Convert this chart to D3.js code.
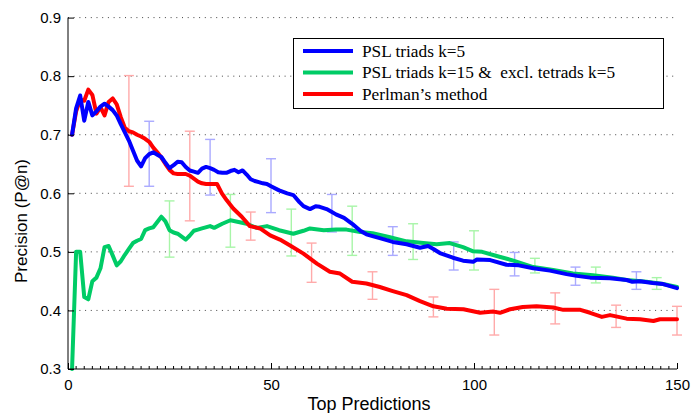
<!DOCTYPE html>
<html>
<head>
<meta charset="utf-8">
<script src="https://cdn.jsdelivr.net/npm/d3@7"></script>
<style>
  html, body { margin: 0; padding: 0; background: #fff; }
  svg { display: block; }
</style>
</head>
<body>
<svg id="chart" width="693" height="413"></svg>
<script>
// Precision at n for the three methods, as [n, precision] pairs
const pslTriadsK5 = [
  [1,0.700],[2,0.745],[3,0.767],[4,0.724],[5,0.756],[6,0.733],[7,0.740],[8,0.748],[9,0.753],[10,0.748],
  [11,0.742],[12,0.733],[13,0.718],[14,0.704],[15,0.690],[16,0.673],[17,0.656],[18,0.646],[19,0.660],[20,0.667],
  [21,0.670],[22,0.666],[23,0.662],[24,0.652],[25,0.643],[26,0.648],[27,0.654],[28,0.653],[29,0.645],[30,0.639],
  [31,0.637],[32,0.635],[33,0.642],[34,0.645],[35,0.643],[36,0.640],[37,0.636],[38,0.635],[39,0.635],[40,0.638],
  [41,0.640],[42,0.636],[43,0.639],[44,0.632],[45,0.624],[46,0.621],[47,0.619],[48,0.617],[49,0.616],[50,0.612],
  [52,0.605],[54,0.600],[55.5,0.597],[57,0.585],[58,0.578],[59.6,0.573],[61,0.578],[62,0.577],[63.7,0.573],[65,0.568],
  [66,0.564],[68,0.558],[70,0.548],[72,0.536],[73.5,0.530],[75,0.527],[77,0.523],[80,0.517],[83.4,0.513],[86.7,0.507],
  [88.7,0.510],[90,0.505],[91.6,0.498],[94.8,0.490],[97.3,0.485],[99.8,0.483],[100.7,0.487],[104,0.486],[108,0.478],[111,0.477],
  [114.6,0.472],[118.7,0.468],[122.8,0.462],[125.3,0.459],[128.6,0.456],[133.5,0.455],[137.6,0.452],[139,0.449],[140.9,0.450],[144,0.447],
  [146.6,0.445],[150,0.438]
];

const pslTriadsK15 = [
  [1,0.300],[2,0.500],[3,0.500],[4,0.423],[5,0.419],[6,0.450],[7,0.456],[8,0.472],[9,0.508],[10,0.510],
  [11,0.494],[12,0.477],[13,0.484],[14,0.495],[15,0.505],[16,0.515],[17,0.519],[18,0.522],[19,0.537],[20,0.540],
  [21,0.542],[22,0.551],[23,0.560],[24,0.552],[25,0.537],[26,0.533],[27,0.531],[28,0.526],[29,0.521],[30,0.528],
  [31,0.536],[32,0.538],[33,0.540],[35,0.544],[36,0.541],[38,0.548],[40,0.554],[42,0.551],[44,0.548],[46.5,0.541],
  [49,0.544],[52,0.537],[55.5,0.531],[58,0.536],[59.6,0.540],[63,0.537],[66,0.538],[68.6,0.538],[72,0.534],[75,0.532],
  [79.3,0.525],[83.4,0.518],[87.5,0.515],[90.8,0.513],[94,0.515],[97.3,0.508],[99.8,0.501],[102,0.500],[105.6,0.493],[109.7,0.485],
  [114.6,0.474],[119.5,0.469],[124.4,0.463],[129.3,0.460],[134.2,0.456],[137.6,0.452],[142.5,0.449],[146.6,0.445],[150,0.440]
];

const perlman = [
  [1,0.700],[2,0.740],[3,0.760],[4,0.758],[5,0.777],[6,0.768],[7,0.736],[8,0.747],[9,0.733],[10,0.756],
  [11,0.762],[12,0.752],[13,0.730],[14,0.712],[15,0.706],[16,0.704],[17,0.700],[18,0.697],[19,0.693],[20,0.688],
  [21,0.678],[22,0.670],[23,0.661],[24,0.650],[25,0.640],[26,0.634],[27,0.633],[28,0.633],[29,0.633],[30,0.630],
  [31,0.625],[32,0.620],[33,0.617],[34,0.616],[35,0.616],[36.7,0.616],[37.9,0.600],[39.1,0.588],[40.7,0.574],[42.8,0.560],
  [44.8,0.544],[47.3,0.540],[49.8,0.528],[52.2,0.521],[54.7,0.511],[58,0.497],[61.3,0.480],[64.5,0.466],[67,0.463],[70,0.449],
  [73.5,0.446],[76.8,0.440],[80,0.433],[83.4,0.426],[86.7,0.416],[90,0.407],[93.3,0.403],[97.4,0.402],[101.5,0.396],[104.8,0.398],
  [106.4,0.396],[108.9,0.402],[112,0.406],[115.4,0.407],[119.5,0.405],[122,0.401],[126.2,0.401],[128.6,0.396],[131.5,0.389],[133.5,0.392],
  [137.6,0.386],[140.9,0.385],[144.2,0.382],[145.8,0.385],[150,0.385]
];

// Error bars: [n, lower, upper]
const pslTriadsK5Err = [
  [20,0.612,0.723],[35,0.597,0.692],[50,0.567,0.659],[65,0.534,0.598],[80,0.494,0.543],
  [95,0.469,0.517],[110,0.459,0.499],[125,0.443,0.474],[140,0.436,0.466]
];
const pslTriadsK15Err = [
  [25,0.491,0.587],[40,0.508,0.598],[55,0.493,0.573],[70,0.494,0.578],[85,0.487,0.548],
  [100,0.469,0.536],[115,0.464,0.489],[130,0.447,0.474],[145,0.436,0.456]
];
const perlmanErr = [
  [15,0.612,0.801],[30,0.553,0.706],[45,0.520,0.568],[60,0.448,0.515],[75,0.419,0.466],
  [90,0.389,0.423],[105,0.358,0.436],[120,0.377,0.430],[135,0.371,0.409],[150,0.358,0.407]
];

const seriesNames = ["PSL triads k=5", "PSL triads k=15 &  excl. tetrads k=5", "Perlman\u2019s method"];
const xTicks = [0, 50, 100, 150];
const yTicks = [0.3, 0.4, 0.5, 0.6, 0.7, 0.8, 0.9];

const svg = d3.select("#chart");
const x = d3.scaleLinear().domain([0, 150]).range([68, 677]);
const y = d3.scaleLinear().domain([0.3, 0.9]).range([369, 17.6]);

const series = [
  { name: seriesNames[1], data: pslTriadsK15, err: pslTriadsK15Err, color: "#00cc66", errColor: "#a8f5a8" },
  { name: seriesNames[2], data: perlman,      err: perlmanErr,      color: "#ff0000", errColor: "#ffaaaa" },
  { name: seriesNames[0], data: pslTriadsK5,  err: pslTriadsK5Err,  color: "#0000ff", errColor: "#aaaaff" }
];

// dotted horizontal grid
svg.append("g")
  .selectAll("line")
  .data(yTicks.filter(t => t > 0.3))
  .join("line")
  .attr("x1", x(0)).attr("x2", x(150))
  .attr("y1", d => y(d)).attr("y2", d => y(d))
  .attr("stroke", "#444")
  .attr("stroke-width", 1)
  .attr("stroke-dasharray", "1,4.7");

// error bars
const capHalf = 5;
series.forEach(s => {
  const g = svg.append("g").attr("stroke", s.errColor).attr("stroke-width", 1.4).attr("fill", "none");
  s.err.forEach(([n, lo, hi]) => {
    g.append("line").attr("x1", x(n)).attr("x2", x(n)).attr("y1", y(lo)).attr("y2", y(hi));
    g.append("line").attr("x1", x(n) - capHalf).attr("x2", x(n) + capHalf).attr("y1", y(lo)).attr("y2", y(lo));
    g.append("line").attr("x1", x(n) - capHalf).attr("x2", x(n) + capHalf).attr("y1", y(hi)).attr("y2", y(hi));
  });
});

// lines
const line = d3.line().x(d => x(d[0])).y(d => y(d[1]));
series.forEach(s => {
  svg.append("path")
    .datum(s.data)
    .attr("d", line)
    .attr("fill", "none")
    .attr("stroke", s.color)
    .attr("stroke-width", 4)
    .attr("stroke-linejoin", "round")
    .attr("stroke-linecap", "round");
});

// axes
const axisFont = "'Liberation Sans', Arial, Helvetica, sans-serif";
const gx = svg.append("g").attr("transform", `translate(0,${y(0.3)})`)
  .call(d3.axisBottom(x).tickValues(xTicks).tickSize(-6).tickPadding(10).tickFormat(d3.format("d")));
gx.select(".domain").attr("d", `M${x(0)},0H${x(150)}`).attr("stroke", "#000");
gx.selectAll(".tick line").attr("stroke", "#000");
gx.selectAll(".tick text").attr("font-family", axisFont).attr("font-size", 15).attr("fill", "#000");

// minor x ticks every 2
svg.append("g")
  .selectAll("line")
  .data(d3.range(0, 151, 2).filter(v => v % 50 !== 0))
  .join("line")
  .attr("x1", d => x(d)).attr("x2", d => x(d))
  .attr("y1", y(0.3)).attr("y2", y(0.3) - 3)
  .attr("stroke", "#000").attr("stroke-width", 1);

const gy = svg.append("g").attr("transform", `translate(${x(0)},0)`)
  .call(d3.axisLeft(y).tickValues(yTicks).tickSize(-6).tickPadding(7).tickFormat(d3.format(".1f")));
gy.select(".domain").attr("d", `M0,${y(0.9)}V${y(0.3)}`).attr("stroke", "#000");
gy.selectAll(".tick line").attr("stroke", "#000");
gy.selectAll(".tick text").attr("font-family", axisFont).attr("font-size", 15).attr("fill", "#000");

// axis titles
svg.append("text")
  .attr("x", 369).attr("y", 410)
  .attr("text-anchor", "middle")
  .attr("font-family", axisFont).attr("font-size", 18)
  .text("Top Predictions");

svg.append("text")
  .attr("transform", "translate(27,221) rotate(-90)")
  .attr("text-anchor", "middle")
  .attr("font-family", axisFont).attr("font-size", 17)
  .text("Precision (P@n)");

// legend
const legend = svg.append("g");
legend.append("rect")
  .attr("x", 293.5).attr("y", 38.5).attr("width", 370).attr("height", 70)
  .attr("fill", "#fff").attr("stroke", "#000").attr("stroke-width", 1);
const legendItems = [
  { name: seriesNames[0], color: "#0000ff" },
  { name: seriesNames[1], color: "#00cc66" },
  { name: seriesNames[2], color: "#ff0000" }
];
legendItems.forEach((d, i) => {
  const yy = 51 + i * 21.5;
  legend.append("line")
    .attr("x1", 303).attr("x2", 353).attr("y1", yy).attr("y2", yy)
    .attr("stroke", d.color).attr("stroke-width", 4);
  legend.append("text")
    .attr("x", 362).attr("y", yy + 5.5)
    .attr("font-family", "'Liberation Serif', 'Times New Roman', serif")
    .attr("font-size", 17.3)
    .style("white-space", "pre")
    .text(d.name);
});
</script>
</body>
</html>
